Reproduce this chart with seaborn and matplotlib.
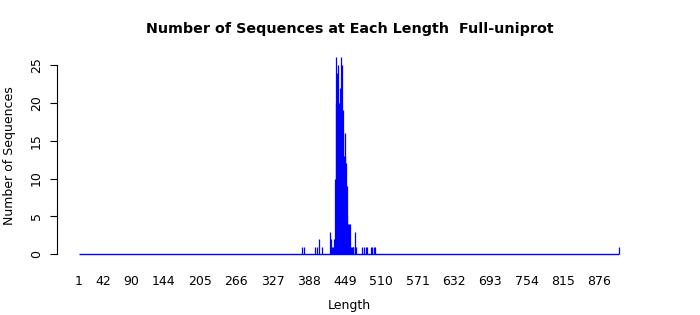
import numpy as np
import pandas as pd
import matplotlib
matplotlib.use("Agg")
import matplotlib.pyplot as plt
import seaborn as sns

# Sequence lengths with non-zero counts (all other lengths in 1..910 have count 0)
lengths = [377, 380, 399, 402, 405, 410, 423, 425, 427,
           429, 430, 431, 432, 433, 434, 435, 436, 437, 438, 439, 440,
           441, 442, 443, 444, 445, 446, 447, 448, 449, 450, 451, 452,
           453, 454, 455, 456, 457, 458, 459,
           461, 462, 463, 465, 466, 468, 478, 480, 484, 486, 492, 494,
           498, 500, 910]
counts = [1, 1, 1, 1, 2, 1, 3, 2, 1,
          1, 2, 1, 10, 26, 20, 24, 21, 25, 20, 19, 18,
          22, 26, 19, 25, 16, 19, 13, 16, 13, 9, 12, 5,
          9, 4, 2, 4, 4, 1, 1,
          1, 1, 1, 3, 1, 1, 1, 1, 1, 1, 1, 1,
          1, 1, 1]
length_min, length_max = 1, 910
xtick_values = [1, 42, 90, 144, 205, 266, 327, 388, 449, 510, 571, 632,
                693, 754, 815, 876]
ytick_values = [0, 5, 10, 15, 20, 25]

title = "Number of Sequences at Each Length  Full-uniprot"
xlabel = "Length"
ylabel = "Number of Sequences"

sns.set_style("ticks")
plt.rcParams["font.family"] = ["DejaVu Sans"]
plt.rcParams["text.color"] = "black"
plt.rcParams["axes.labelcolor"] = "black"
plt.rcParams["xtick.color"] = "black"
plt.rcParams["ytick.color"] = "black"

df = pd.DataFrame({"Length": lengths, "Count": counts})

fig = plt.figure(figsize=(7, 3.15), dpi=100)
ax = fig.add_axes([0.0814, 0.168, 0.9157 - 0.0814, 0.8425 - 0.168])

ax.hlines(0, length_min, length_max, color="blue", lw=1.0)
ax.vlines(df["Length"], 0, df["Count"], color="blue", lw=0.9)

span = length_max - length_min
ax.set_xlim(length_min - 0.04 * span, length_max + 0.04 * span)
ymax = 26
ax.set_ylim(-0.04 * ymax, ymax * 1.04)

ax.set_xticks(xtick_values)
ax.set_xticklabels([str(v) for v in xtick_values], fontsize=9)
ax.set_yticks(ytick_values)
ax.set_yticklabels([str(v) for v in ytick_values], fontsize=9, rotation=90,
                   va="center")
ax.tick_params(axis="x", length=0, pad=9)
ax.tick_params(axis="y", length=5, width=0.8, pad=5)

sns.despine(ax=ax, bottom=True)
ax.spines["left"].set_bounds(0, 25)
ax.spines["left"].set_linewidth(0.8)
ax.spines["left"].set_color("black")

ax.set_xlabel(xlabel, fontsize=9, labelpad=8)
ax.set_ylabel(ylabel, fontsize=9, labelpad=10)
fig.text(0.5, 0.908, title, ha="center", va="center", fontsize=10.3,
         fontweight="bold")

fig.savefig("out.png", dpi=100)
